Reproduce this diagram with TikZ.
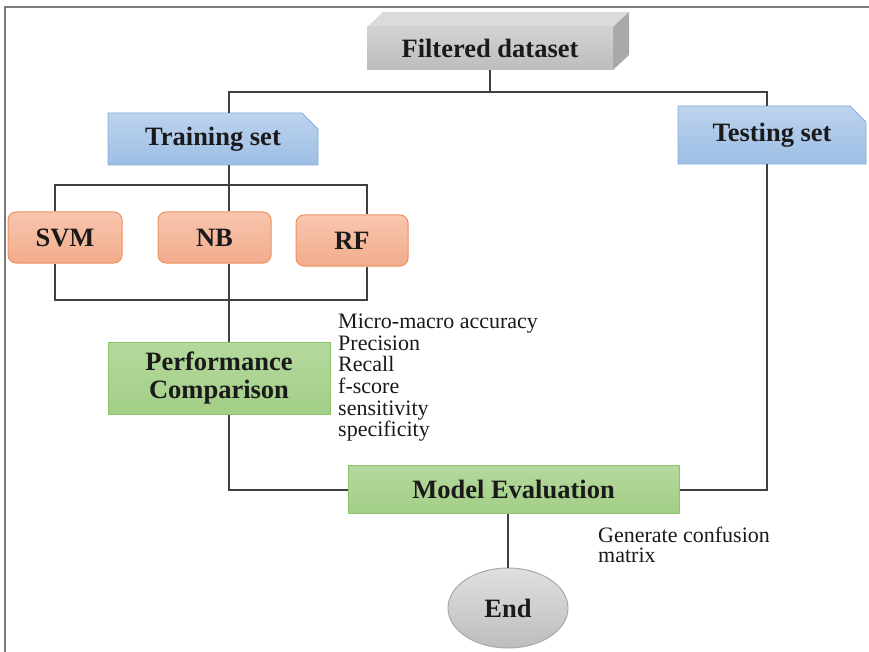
\documentclass[tikz,border=0pt]{standalone}
\usepackage{fontspec}
\setmainfont{Liberation Serif}
\usetikzlibrary{shapes.misc,shapes.geometric}

\definecolor{linec}{HTML}{404040}
\definecolor{framec}{HTML}{7A7A7A}
\definecolor{blueT}{HTML}{BDD3EE}
\definecolor{blueB}{HTML}{9DBEE4}
\definecolor{blueD}{HTML}{86AEDC}
\definecolor{orT}{HTML}{F8C6AE}
\definecolor{orB}{HTML}{F2AC8C}
\definecolor{orD}{HTML}{EE9160}
\definecolor{grT}{HTML}{B5D99D}
\definecolor{grB}{HTML}{A2CE86}
\definecolor{grD}{HTML}{8CC46C}
\definecolor{gyT}{HTML}{D2D2D2}
\definecolor{gyB}{HTML}{BDBDBD}
\definecolor{gyD}{HTML}{A9A9A9}
\definecolor{txt}{HTML}{1A1A1A}

\tikzset{
  boxfont/.style={font=\fontsize{26.5}{28}\selectfont\bfseries, text=txt},
  conn/.style={draw=linec, line width=1.6pt},
  setbox/.style={chamfered rectangle, chamfered rectangle corners=north east,
    chamfered rectangle xsep=8pt, chamfered rectangle ysep=8pt,
    top color=blueT, bottom color=blueB, draw=blueD, line width=0.8pt,
    boxfont, inner sep=0pt},
  algbox/.style={rectangle, rounded corners=8pt, top color=orT, bottom color=orB,
    draw=orD, line width=1pt, boxfont, inner sep=0pt},
  stagebox/.style={rectangle, top color=grT, bottom color=grB, draw=grD,
    line width=1pt, boxfont, inner sep=0pt, align=center},
  note/.style={text=txt, align=left, inner sep=0pt, anchor=north west},
}

\begin{document}
\begin{tikzpicture}[x=1pt, y=-1pt]
\useasboundingbox (0,0) rectangle (869,652);
\fill[white] (0,0) rectangle (869,652);

% outer frame
\draw[framec, line width=1.4pt] (5,652) -- (5,7) -- (869,7);

% Filtered dataset: box with top and side faces
\fill[gyT!80!white] (367,27) -- (383,12) -- (629,12) -- (613,27) -- cycle;
\fill[gyD] (613,27) -- (629,12) -- (629,55) -- (613,70) -- cycle;
\node[rectangle, minimum width=246pt, minimum height=43pt, inner sep=0pt,
  top color=gyT, bottom color=gyB, boxfont]
  (data) at (490,48.5) {Filtered dataset};

% data split
\node[setbox, minimum width=210pt, minimum height=52pt] (train) at (213,139) {Training set};
\node[setbox, minimum width=188pt, minimum height=58pt] (test) at (772,135) {Testing set};

% classifiers
\node[algbox, minimum width=114pt, minimum height=51pt] (svm) at (65,237.5) {SVM};
\node[algbox, minimum width=113pt, minimum height=51pt] (nb) at (214.5,237.5) {NB};
\node[algbox, minimum width=112pt, minimum height=51pt] (rf) at (352,240.5) {RF};

% evaluation stages
\node[stagebox, minimum width=222pt, minimum height=72pt] (perf) at (219,378)
  {Performance\\[0pt]Comparison};
\node[stagebox, minimum width=331pt, minimum height=48pt] (model) at (513.5,489) {Model Evaluation};
\node[ellipse, minimum width=120pt, minimum height=80pt, inner sep=0pt,
  top color=gyT!70!white, bottom color=gyB, draw=gyD, line width=1pt,
  boxfont] (end) at (508,608) {End};

% annotations
\node[note, font=\fontsize{22}{21.6}\selectfont] (metrics) at (338,314)
  {Micro-macro accuracy\\Precision\\Recall\\f-score\\sensitivity\\specificity};
\node[note, font=\fontsize{22}{20.5}\selectfont] (conf) at (598,526.5)
  {Generate confusion\\matrix};

% junction points
\coordinate (split) at (490,92);
\coordinate (trainx) at (229,92);
\coordinate (testx) at (767,92);
\coordinate (fan) at (229,185);
\coordinate (fanL) at (55,185);
\coordinate (fanR) at (367,185);
\coordinate (join) at (229,300);
\coordinate (joinL) at (55,300);
\coordinate (joinR) at (367,300);
\coordinate (toeval) at (229,490);
\coordinate (testdown) at (767,490);

% connectors
\draw[conn] (data.south -| split) -- (split);
\draw[conn] (trainx |- train.north) -- (trainx) -- (testx) -- (testx |- test.north);
\draw[conn] (fan |- train.south) -- (fan);
\draw[conn] (fanL |- svm.north) -- (fanL) -- (fanR) -- (fanR |- rf.north);
\draw[conn] (fan) -- (fan |- nb.north);
\draw[conn] (joinL |- svm.south) -- (joinL) -- (joinR) -- (joinR |- rf.south);
\draw[conn] (join |- nb.south) -- (join |- perf.north);
\draw[conn] (join |- perf.south) -- (toeval) -- (toeval -| model.west);
\draw[conn] (testx |- test.south) -- (testdown) -- (testdown -| model.east);
\draw[conn] (end.north |- model.south) -- (end.north);
\end{tikzpicture}
\end{document}
